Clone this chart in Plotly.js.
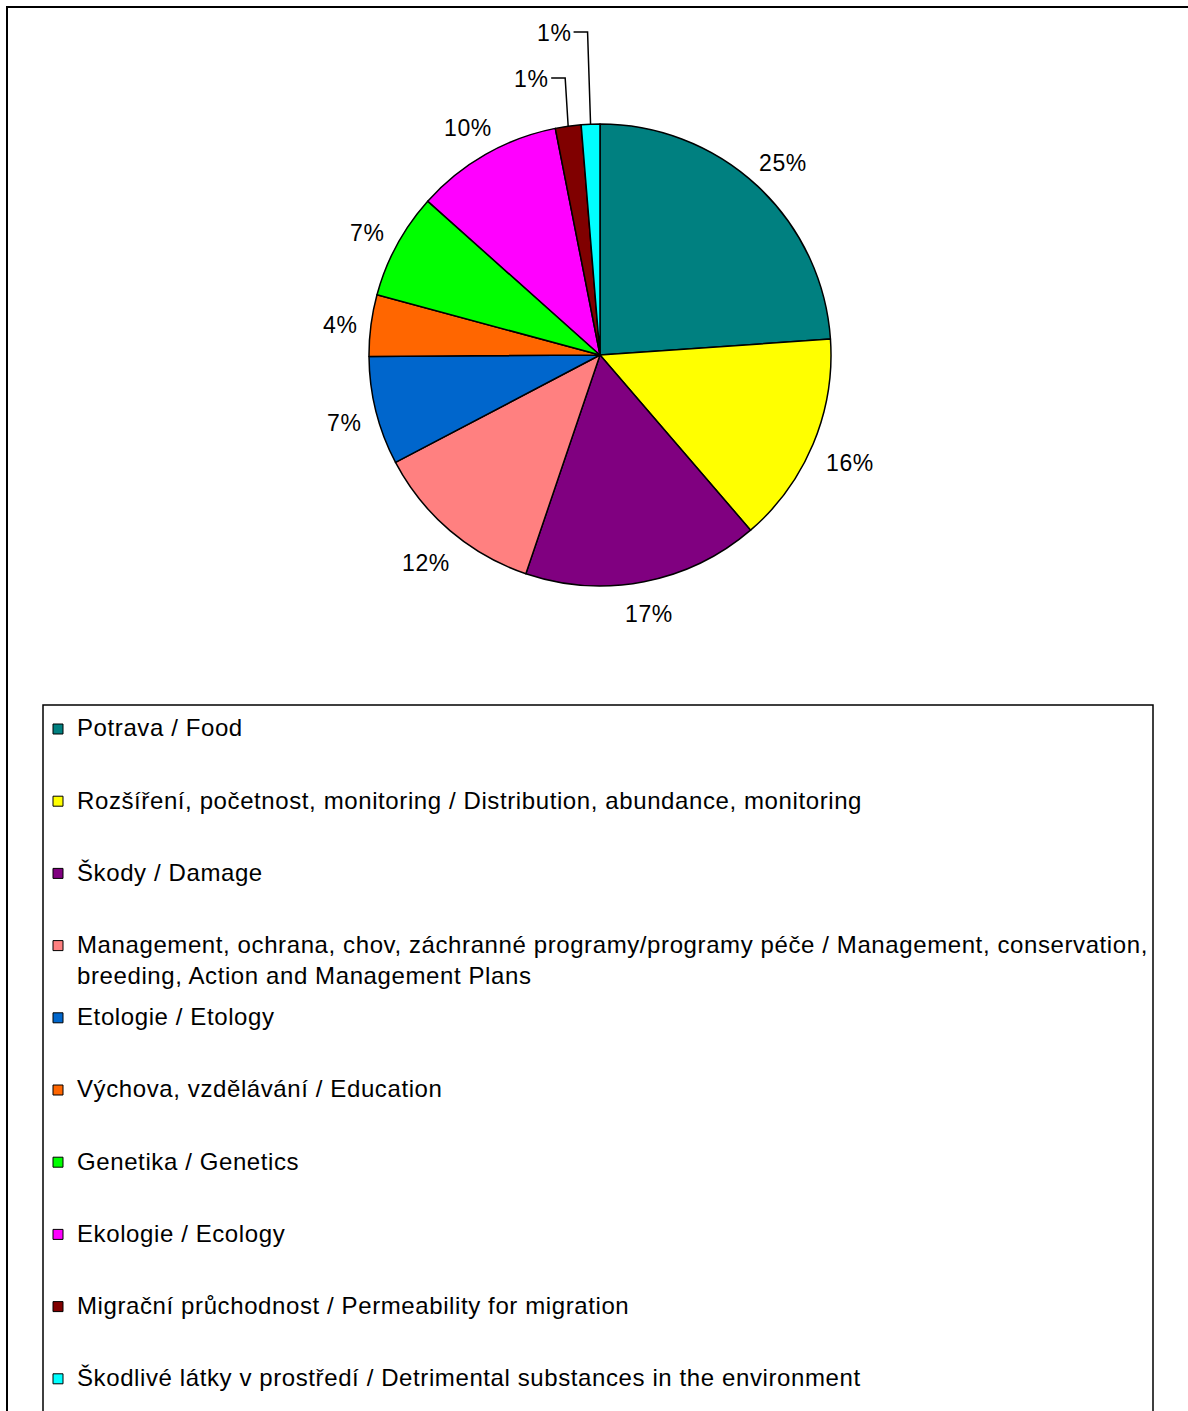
<!DOCTYPE html>
<html>
<head>
<meta charset="utf-8">
<script src="https://cdn.plot.ly/plotly-3.0.1.min.js"></script>
<style>
html,body{margin:0;padding:0;background:#fff;}
#chart{width:1188px;height:1411px;}
.annotation-text{letter-spacing:0.6px;}
</style>
</head>
<body>
<div id="chart"></div>
<script>
// ---- data ----
const categories = [
  "Potrava / Food",
  "Rozšíření, početnost, monitoring / Distribution, abundance, monitoring",
  "Škody / Damage",
  "Management, ochrana, chov, záchranné programy/programy péče / Management, conservation, breeding, Action and Management Plans",
  "Etologie / Etology",
  "Výchova, vzdělávání / Education",
  "Genetika / Genetics",
  "Ekologie / Ecology",
  "Migrační průchodnost / Permeability for migration",
  "Škodlivé látky v prostředí / Detrimental substances in the environment"
];
// slice shares
const sliceShares = [23.9, 14.8, 16.5, 12.1, 7.6, 4.3, 7.4, 10.3, 1.8, 1.3];
// percentage labels as printed on the chart
const percentLabels = ["25%", "16%", "17%", "12%", "7%", "4%", "7%", "10%", "1%", "1%"];
const sliceColors = ["#008080", "#FFFF00", "#800080", "#FF8080", "#0066CC", "#FF6600", "#00FF00", "#FF00FF", "#800000", "#00FFFF"];

// ---- layout helpers ----
const W = 1188, H = 1411;
const px = x => x / W;
const py = y => 1 - y / H;
const FONT = "Liberation Sans, Arial, sans-serif";
const FS = 24, LS = 0.6, PFS = 23;

// pie geometry (pixels)
const CX = 600, CY = 355, R = 231;

const ctx = document.createElement("canvas").getContext("2d");
function textW(t, size) {
  ctx.font = size + "px 'Liberation Sans'";
  return ctx.measureText(t).width + LS * t.length;
}
function wrap(text, maxW) {
  const words = text.split(" ");
  const lines = [];
  let cur = "";
  words.forEach(w => {
    const t = cur ? cur + " " + w : w;
    if (textW(t, FS) > maxW && cur) { lines.push(cur); cur = w; }
    else cur = t;
  });
  if (cur) lines.push(cur);
  return lines;
}

const trace = {
  type: "pie",
  labels: categories,
  values: sliceShares,
  marker: { colors: sliceColors, line: { color: "#000", width: 1.5 } },
  sort: false,
  direction: "clockwise",
  rotation: 0,
  textinfo: "none",
  hoverinfo: "label+percent",
  showlegend: false,
  domain: { x: [px(CX - R), px(CX + R)], y: [py(CY + R), py(CY - R)] }
};

const shapes = [
  { type: "rect", xref: "paper", yref: "paper", x0: px(7), x1: px(1200), y0: py(1430), y1: py(7), line: { color: "#000", width: 2 }, fillcolor: "rgba(0,0,0,0)" },
  { type: "rect", xref: "paper", yref: "paper", x0: px(43), x1: px(1153), y0: py(1430), y1: py(705), line: { color: "#000", width: 1.5 }, fillcolor: "rgba(0,0,0,0)" }
];
const annotations = [];

// percentage labels placed outside each slice at its mid-angle
const total = sliceShares.reduce((a, b) => a + b, 0);
const TEXT_DY = 4;
let cum = 0, smallIdx = 0;
sliceShares.forEach((v, i) => {
  const mid = (cum + v / 2) / total * 2 * Math.PI;
  cum += v;
  const s = Math.sin(mid), c = Math.cos(mid);
  const w = textW(percentLabels[i], PFS), h = PFS;
  if (v / total >= 0.03) {
    const ext = Math.abs(s) * w / 2 + Math.abs(c) * h / 2;
    const r = R + 13 + ext;
    annotations.push({
      xref: "paper", yref: "paper", x: px(CX + r * s), y: py(CY - r * c + TEXT_DY),
      xanchor: "center", yanchor: "middle", showarrow: false,
      text: percentLabels[i], font: { family: FONT, size: PFS, color: "#000" }
    });
  } else {
    // small slice: label raised above the pie with an elbow leader line
    const ax = CX + R * s, ay = CY - R * c;
    smallIdx += 1;
    const ly = CY - R - 46 * smallIdx;
    const ex = ax - 3;
    const lx = ex - 14;
    shapes.push({ type: "path", xref: "paper", yref: "paper",
      path: `M${px(ax)},${py(ay)} L${px(ex)},${py(ly)} L${px(lx)},${py(ly)}`,
      line: { color: "#000", width: 1.5 } });
    annotations.push({
      xref: "paper", yref: "paper", x: px(lx - 1), y: py(ly + 1),
      xanchor: "right", yanchor: "middle", showarrow: false,
      text: percentLabels[i], font: { family: FONT, size: PFS, color: "#000" }
    });
  }
});

// legend
const step = 72.2, firstY = 729;
categories.forEach((cat, i) => {
  const yc = firstY + step * i;
  shapes.push({ type: "rect", xref: "paper", yref: "paper", x0: px(53), x1: px(63), y0: py(yc + 5), y1: py(yc - 5), line: { color: "#000", width: 1 }, fillcolor: sliceColors[i] });
  const lines = wrap(cat, 1072);
  annotations.push({
    xref: "paper", yref: "paper", x: px(75), y: py(yc - FS * 0.65 - 1),
    xanchor: "left", yanchor: "top", align: "left", showarrow: false,
    text: lines.join("<br>"),
    font: { family: FONT, size: FS, color: "#000" }
  });
});

const layout = {
  width: W, height: H,
  margin: { l: 0, r: 0, t: 0, b: 0 },
  paper_bgcolor: "#fff",
  showlegend: false,
  shapes: shapes,
  annotations: annotations
};

Plotly.newPlot("chart", [trace], layout, { displayModeBar: false, staticPlot: true });
</script>
</body>
</html>
